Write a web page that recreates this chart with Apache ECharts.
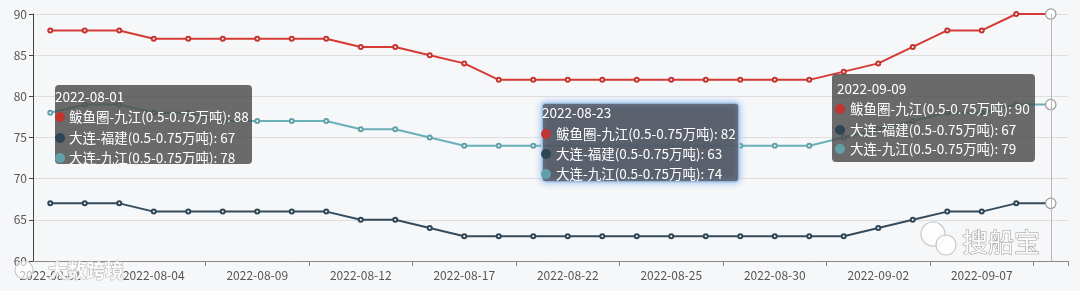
<!DOCTYPE html>
<html>
<head>
<meta charset="utf-8">
<script src="https://cdn.jsdelivr.net/npm/echarts@6/dist/echarts.min.js"></script>
<style>
html,body{margin:0;padding:0;background:#f6f7f9;}
#main{width:1080px;height:291px;}
</style>
</head>
<body>
<div id="main"></div>
<script>
const categories = ['2022-08-01','2022-08-02','2022-08-03','2022-08-04','2022-08-05','2022-08-08','2022-08-09','2022-08-10','2022-08-11','2022-08-12','2022-08-15','2022-08-16','2022-08-17','2022-08-18','2022-08-19','2022-08-22','2022-08-23','2022-08-24','2022-08-25','2022-08-26','2022-08-29','2022-08-30','2022-08-31','2022-09-01','2022-09-02','2022-09-05','2022-09-06','2022-09-07','2022-09-08','2022-09-09'];
const seriesNames = ['鲅鱼圈-九江(0.5-0.75万吨)','大连-福建(0.5-0.75万吨)','大连-九江(0.5-0.75万吨)'];
const bayuquanJiujiang = [88,88,88,87,87,87,87,87,87,86,86,85,84,82,82,82,82,82,82,82,82,82,82,83,84,86,88,88,90,90];
const dalianFujian = [67,67,67,66,66,66,66,66,66,65,65,64,63,63,63,63,63,63,63,63,63,63,63,63,64,65,66,66,67,67];
const dalianJiujiang = [78,79,79,78,78,77,77,77,77,76,76,75,74,74,74,74,74,74,74,74,74,74,74,75,76,77,78,78,79,79];
const yTicks = [60,65,70,75,80,85,90];
const colors = ['#c23531','#2f4554','#61a0a8'];
const tipIndices = [0,16,29];
const hoverIndex = 29;

const seriesData = [bayuquanJiujiang, dalianFujian, dalianJiujiang];
const FONT = '"Noto Sans CJK SC","Noto Sans",sans-serif';
const TIPZ = 200;

// tooltip box layouts (pixel positions)
const tipLayouts = [
  {x:55, y:85, w:197, h:79, titleDy:12, rowDy:[32,53,73], tx:0, dotX:5, rowX:14, glow:false},
  {x:542, y:103, w:197, h:79, titleDy:10, rowDy:[31,51,71], tx:0, dotX:4, rowX:14, glow:true},
  {x:832, y:74, w:203, h:88, titleDy:15, rowDy:[35,56,75], tx:5, dotX:8, rowX:18, glow:false}
];

function buildTip(k){
  const L = tipLayouts[k];
  const idx = tipIndices[k];
  const els = [];
  els.push({
    type:'rect', z:TIPZ, silent:true, shape:{x:L.x,y:L.y,width:L.w,height:L.h,r:4},
    style: L.glow ? {fill:'rgba(75,75,80,0.82)', stroke:'#a9cdf2', lineWidth:1.5, shadowBlur:6, shadowColor:'rgba(120,170,230,0.8)'}
                  : {fill:'rgba(75,75,75,0.82)'}
  });
  els.push({
    type:'text', z:TIPZ+1, silent:true, x:L.x+L.tx, y:L.y+L.titleDy,
    style:{text:categories[idx], fill:'#fff', font:'13.5px '+FONT, textVerticalAlign:'middle', verticalAlign:'middle'}
  });
  for(let s=0;s<3;s++){
    els.push({type:'circle', z:TIPZ+1, silent:true, shape:{cx:L.x+L.dotX, cy:L.y+L.rowDy[s], r:5}, style:{fill:colors[s]}});
    els.push({
      type:'text', z:TIPZ+1, silent:true, x:L.x+L.rowX, y:L.y+L.rowDy[s],
      style:{text:seriesNames[s]+': '+seriesData[s][idx], fill:'#fff', font:'13.5px '+FONT, textVerticalAlign:'middle', verticalAlign:'middle'}
    });
  }
  return els;
}

let graphics = [];
tipIndices.forEach((_,k)=>{ graphics = graphics.concat(buildTip(k)); });
// watermarks
graphics.push({type:'circle', z:90, silent:true, shape:{cx:24, cy:270, r:9}, style:{fill:'rgba(255,255,255,0.6)', stroke:'#c8c8c8', lineWidth:1.2}});
graphics.push({type:'text', z:90, silent:true, x:48, y:271, style:{text:'大数跨境', fill:'rgba(255,255,255,0.85)', stroke:'#b5b5b5', lineWidth:1, font:'bold 19px '+FONT, textVerticalAlign:'middle', verticalAlign:'middle'}});
graphics.push({type:'circle', z:90, silent:true, shape:{cx:933, cy:234, r:12}, style:{fill:'rgba(255,255,255,0.7)', stroke:'#c8c8c8', lineWidth:1.2}});
graphics.push({type:'circle', z:91, silent:true, shape:{cx:946, cy:245, r:10}, style:{fill:'rgba(255,255,255,0.8)', stroke:'#c8c8c8', lineWidth:1.2}});
graphics.push({type:'text', z:92, silent:true, x:962, y:242, style:{text:'搜船宝', fill:'rgba(255,255,255,0.9)', stroke:'#9a9a9a', lineWidth:1, font:'26px '+FONT, textVerticalAlign:'middle', verticalAlign:'middle'}});

const chart = echarts.init(document.getElementById('main'), null, {renderer:'canvas'});
chart.setOption({
  backgroundColor:'#f6f7f9',
  animation:false,
  color:colors,
  grid:{left:33, right:12, top:14, bottom:30, containLabel:false},
  xAxis:{
    type:'category', data:categories, boundaryGap:true,
    axisLine:{lineStyle:{color:'#8a8a8a', width:1}},
    axisTick:{show:true, length:5, interval:(i)=> i%3===2, lineStyle:{color:'#8a8a8a'}},
    axisLabel:{interval:2, color:'#555', fontSize:12, fontFamily:FONT, margin:8}
  },
  yAxis:{
    type:'value', min:yTicks[0], max:yTicks[yTicks.length-1], interval:5,
    axisLine:{show:true, lineStyle:{color:'#444'}},
    axisTick:{show:true, length:4, lineStyle:{color:'#444'}},
    axisLabel:{color:'#555', fontSize:12, fontFamily:FONT, margin:6},
    splitLine:{lineStyle:{color:'#dedede'}}
  },
  graphic:{elements:graphics},
  series: seriesData.map((d,s)=>({
    name:seriesNames[s], type:'line', data:d, z:2,
    symbol:'emptyCircle', symbolSize:4, showSymbol:true,
    lineStyle:{width:2, color:colors[s]},
    itemStyle:{color:colors[s], borderWidth:1},
    emphasis:{scale:2.6, lineStyle:{width:2}, itemStyle:{color:'#fff', borderColor:'#999', borderWidth:1.2}},
    markLine: s===0 ? {
      silent:true, symbol:'none', animation:false,
      label:{show:false},
      lineStyle:{color:'#b8b8b8', type:'solid', width:1},
      emphasis:{disabled:true},
      data:[{xAxis:categories[hoverIndex]}]
    } : undefined
  }))
});
chart.dispatchAction({type:'highlight', seriesIndex:[0,1,2], dataIndex:hoverIndex});
</script>
</body>
</html>
